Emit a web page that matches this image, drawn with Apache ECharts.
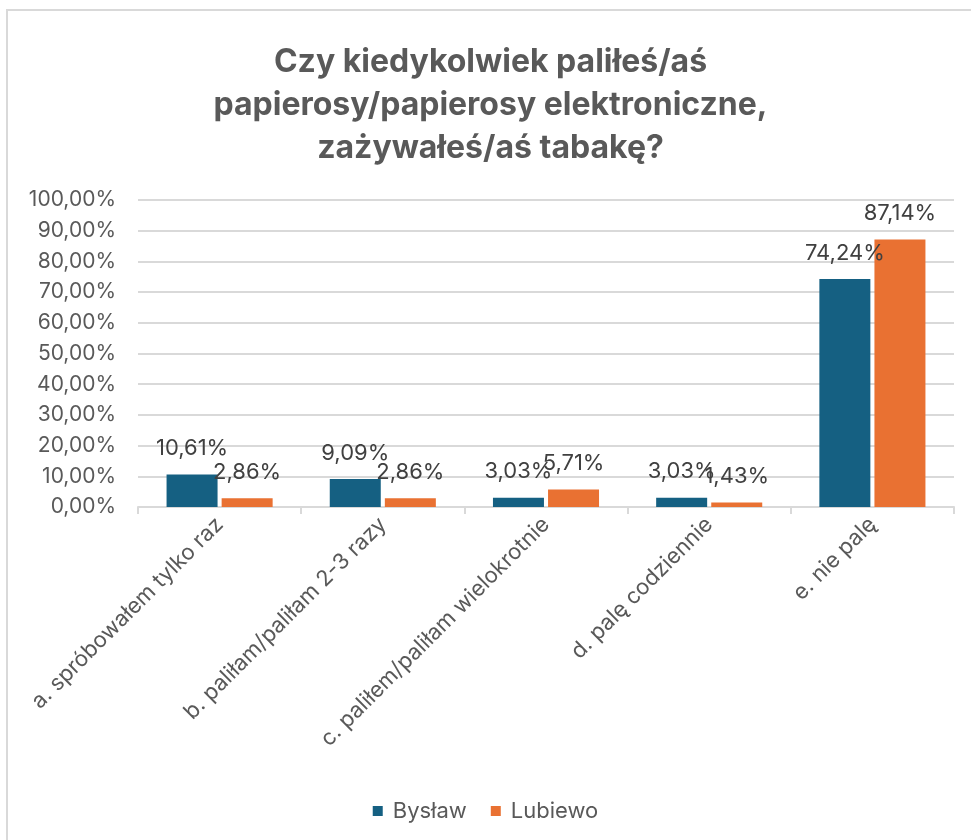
<!DOCTYPE html>
<html>
<head>
<meta charset="utf-8">
<script src="https://cdn.jsdelivr.net/npm/echarts@6/dist/echarts.min.js"></script>
<style>
  html, body { margin: 0; padding: 0; background: #ffffff; }
  #chart { width: 971px; height: 840px; }
</style>
</head>
<body>
<div id="chart"></div>
<script>
const TITLE = "Czy kiedykolwiek paliłeś/aś\npapierosy/papierosy elektroniczne,\nzażywałeś/aś tabakę?";
const CATEGORIES = [
  "a. spróbowałem tylko raz",
  "b. paliłam/paliłam 2-3 razy",
  "c. paliłem/paliłam wielokrotnie",
  "d. palę codziennie",
  "e. nie palę",
];
const BYSLAW = [10.61, 9.09, 3.03, 3.03, 74.24];
const LUBIEWO = [2.86, 2.86, 5.71, 1.43, 87.14];
const SERIES_NAMES = ["Bysław", "Lubiewo"];
const COLORS = ["#156082", "#E97132"];

const FONT = "Inter, 'Liberation Sans', sans-serif";

function pct(value) {
  return value.toFixed(2).replace(".", ",") + "%";
}

const chart = echarts.init(document.getElementById("chart"), null, { renderer: "canvas" });

function barSeries(name, data, color) {
  return {
    name,
    type: "bar",
    data,
    barWidth: 51,
    barGap: "8%",
    itemStyle: { color },
    label: {
      show: true,
      position: "top",
      distance: 15,
      formatter: (p) => pct(p.value),
      color: "#404040",
      fontFamily: FONT,
      fontSize: 22,
    },
  };
}

chart.setOption({
  animation: false,
  graphic: [
    {
      type: "rect",
      shape: { x: 7, y: 10, width: 1000, height: 900 },
      style: { fill: "none", stroke: "#d9d9d9", lineWidth: 2 },
      silent: true,
    },
  ],
  title: {
    text: TITLE,
    left: "50%",
    top: 36,
    textAlign: "center",
    textStyle: {
      fontFamily: FONT,
      fontWeight: "bold",
      fontSize: 32,
      lineHeight: 43,
      color: "#595959",
    },
  },
  legend: {
    bottom: 13,
    left: "center",
    itemWidth: 10,
    itemHeight: 10,
    itemGap: 24,
    icon: "rect",
    textStyle: { fontFamily: FONT, fontSize: 22, color: "#595959", padding: [0, 0, 0, 5] },
    data: SERIES_NAMES,
  },
  grid: {
    left: 138,
    right: 17,
    top: 200,
    bottom: 333,
    containLabel: false,
  },
  xAxis: {
    type: "category",
    data: CATEGORIES,
    axisLine: { lineStyle: { color: "#d9d9d9", width: 2 } },
    axisTick: { show: true, length: 7, lineStyle: { color: "#d9d9d9", width: 2 } },
    axisLabel: {
      rotate: 45,
      interval: 0,
      margin: 14,
      color: "#595959",
      fontFamily: FONT,
      fontSize: 22,
    },
  },
  yAxis: {
    type: "value",
    min: 0,
    max: 100,
    interval: 10,
    axisLine: { show: false },
    axisTick: { show: false },
    splitLine: { lineStyle: { color: "#d9d9d9", width: 2 } },
    axisLabel: {
      margin: 22,
      formatter: (v) => pct(v),
      color: "#595959",
      fontFamily: FONT,
      fontSize: 21,
    },
  },
  series: [
    barSeries(SERIES_NAMES[0], BYSLAW, COLORS[0]),
    barSeries(SERIES_NAMES[1], LUBIEWO, COLORS[1]),
  ],
});
</script>
</body>
</html>
